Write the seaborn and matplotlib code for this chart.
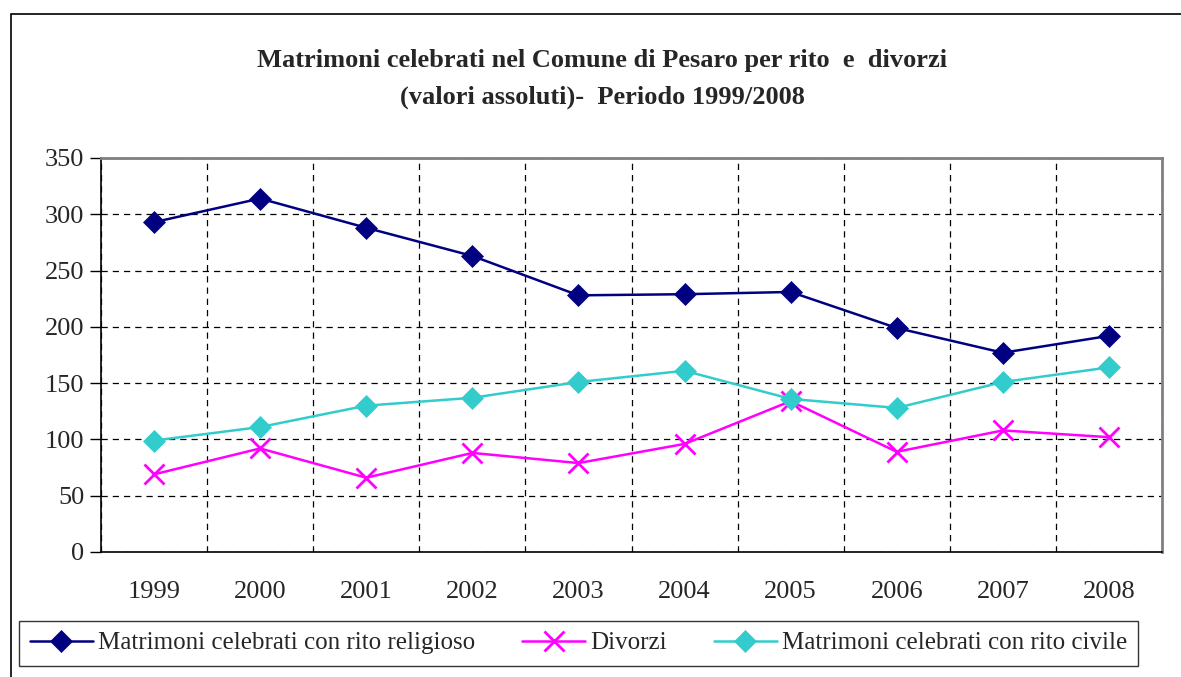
import pandas as pd
import matplotlib
matplotlib.use("Agg")
import matplotlib.pyplot as plt
from matplotlib.patches import Rectangle
import seaborn as sns

# Dati
anni = ["1999", "2000", "2001", "2002", "2003", "2004", "2005", "2006", "2007", "2008"]
religioso = [293, 314, 288, 263, 228, 229, 231, 199, 177, 192]
divorzi = [69, 92, 66, 88, 79, 96, 134, 89, 108, 102]
civile = [99, 111, 130, 137, 151, 161, 136, 128, 151, 164]

serie = ["Matrimoni celebrati con rito religioso", "Divorzi",
         "Matrimoni celebrati con rito civile"]
colori = ["#000080", "#FF00FF", "#33CCCC"]
marker = ["D", "x", "D"]

rows = []
for nome, valori in zip(serie, [religioso, divorzi, civile]):
    for i, v in enumerate(valori):
        rows.append({"pos": i, "anno": anni[i], "valore": v, "serie": nome})
df = pd.DataFrame(rows)

sns.set_style("white")
plt.rcParams['font.family'] = ['Liberation Serif', 'DejaVu Serif']

fig = plt.figure(figsize=(11.81, 6.77), dpi=100)
ax = fig.add_axes([101 / 1181, 1 - 552 / 677, 1061 / 1181, 394 / 677])

for nome, col, mk in zip(serie, colori, marker):
    sub = df[df["serie"] == nome]
    sns.lineplot(data=sub, x="pos", y="valore", ax=ax, color=col, marker=mk,
                 markersize=14 if mk == "x" else 11,
                 markeredgewidth=2 if mk == "x" else 0.5,
                 markeredgecolor=col, linewidth=1.8, label=nome)

ax.set_xlim(-0.5, 9.5)
ax.set_ylim(0, 350)
ax.set_yticks(range(0, 351, 50))
ax.set_xticks([i - 0.5 for i in range(11)])
ax.set_xticklabels([])
ax.set_xticks(range(10), minor=True)
ax.set_xticklabels(anni, minor=True, fontsize=19)
ax.tick_params(axis="x", which="minor", length=0, pad=21)
ax.tick_params(axis="x", which="major", direction="out", length=10, width=1, color="black")
ax.tick_params(axis="y", direction="out", length=8, width=1, color="black", labelsize=19, pad=4,
               left=True)
ax.set_xlabel("")
ax.set_ylabel("")
ax.grid(True, which="major", color="black", linestyle=(0, (5, 4)), linewidth=0.9)
ax.set_axisbelow(True)

for s in ["left", "bottom"]:
    ax.spines[s].set_color("black")
    ax.spines[s].set_linewidth(1.2)
for s in ["top", "right"]:
    ax.spines[s].set_color("#808080")
    ax.spines[s].set_linewidth(2)

fig.text(602 / 1181, 1 - 61 / 677, "Matrimoni celebrati nel Comune di Pesaro per rito  e  divorzi",
         ha="center", va="center", fontsize=19, fontweight="bold")
fig.text(602 / 1181, 1 - 97 / 677, "(valori assoluti)-  Periodo 1999/2008",
         ha="center", va="center", fontsize=19, fontweight="bold")

ax.get_legend().remove()
handles, labels = ax.get_legend_handles_labels()
leg = fig.legend(handles, labels, ncol=3, loc="center left",
                 bbox_to_anchor=(19 / 1181, 1 - 643 / 677), fontsize=18,
                 frameon=True, fancybox=False, edgecolor="black",
                 handlelength=2.5, handletextpad=0.2, columnspacing=1.9,
                 borderpad=0.45, borderaxespad=0)
leg.get_frame().set_linewidth(1)

fig.patches.append(Rectangle((11 / 1181, -0.01), 1.0, 1 - 14 / 677 + 0.01,
                             transform=fig.transFigure, fill=False,
                             edgecolor="black", linewidth=1.2))

fig.savefig("out.png", dpi=100)
